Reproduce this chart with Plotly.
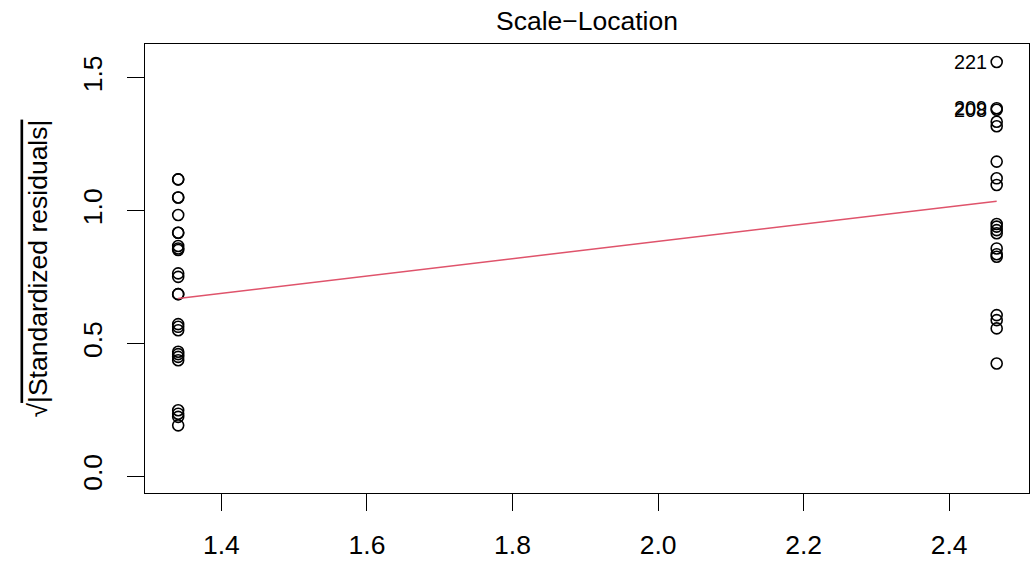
import plotly.graph_objects as go

# fitted values of the two groups
fitted_left = 1.3406
fitted_right = 2.4653

# sqrt(|standardized residuals|) per group
left_vals = [1.118, 1.118, 1.050, 1.050, 0.984, 0.917, 0.917, 0.867, 0.858, 0.852,
             0.764, 0.751, 0.686, 0.686, 0.573, 0.563, 0.550, 0.469, 0.460, 0.450,
             0.437, 0.249, 0.236, 0.224, 0.192]
right_vals = [1.560, 1.386, 1.380, 1.335, 1.318, 1.185, 1.122, 1.097, 0.950, 0.940,
              0.927, 0.915, 0.858, 0.836, 0.827, 0.607, 0.588, 0.557, 0.425]

# labelled observations
label_ids = ["221", "209", "208"]
label_y = [1.560, 1.386, 1.380]

# smoother
smooth_x = [1.3406, 2.4653]
smooth_y = [0.670, 1.036]

x_ticks = [1.4, 1.6, 1.8, 2.0, 2.2, 2.4]
x_ticktext = ["1.4", "1.6", "1.8", "2.0", "2.2", "2.4"]
y_ticks = [0.0, 0.5, 1.0, 1.5]
y_ticktext = ["0.0", "0.5", "1.0", "1.5"]

FONT = "Liberation Sans, Arial, Helvetica, sans-serif"
FS = 26.5

xs = [fitted_left] * len(left_vals) + [fitted_right] * len(right_vals)
ys = left_vals + right_vals

fig = go.Figure()
fig.add_trace(go.Scatter(
    x=xs, y=ys, mode="markers",
    marker=dict(symbol="circle-open", size=11, color="black", line=dict(width=1.6)),
    showlegend=False, hoverinfo="skip"))
fig.add_trace(go.Scatter(
    x=smooth_x, y=smooth_y, mode="lines",
    line=dict(color="#DF536B", width=1.5),
    showlegend=False, hoverinfo="skip"))

annotations = []
for lab, yv in zip(label_ids, label_y):
    annotations.append(dict(
        x=fitted_right, y=yv, xref="x", yref="y", text=lab, showarrow=False,
        xanchor="right", yanchor="middle", xshift=-8,
        font=dict(family=FONT, size=FS * 0.75, color="black")))

annotations.append(dict(
    x=0.5, y=1, xref="paper", yref="paper", text="Scale\u2212Location",
    showarrow=False, xanchor="center", yanchor="bottom", yshift=6,
    font=dict(family=FONT, size=FS, color="black")))

annotations.append(dict(
    x=0, y=0.5, xref="paper", yref="paper",
    text="\u221a<span style=\"text-decoration:overline\">|Standardized residuals|</span>",
    showarrow=False, xanchor="center", yanchor="middle", textangle=-90, xshift=-108,
    font=dict(family=FONT, size=FS, color="black")))

fig.update_layout(
    width=1030, height=563,
    margin=dict(l=145, r=1, t=44, b=70, autoexpand=False),
    paper_bgcolor="white", plot_bgcolor="white",
    font=dict(family=FONT, size=FS, color="black"),
    annotations=annotations,
    xaxis=dict(
        range=[1.295, 2.5097], tickvals=x_ticks, ticktext=x_ticktext,
        showgrid=False, zeroline=False, showline=True, mirror=True,
        linecolor="black", linewidth=1.3, automargin=False,
        ticks="outside", ticklen=17, tickwidth=1.3, tickcolor="black",
        ticklabelstandoff=11,
        tickfont=dict(family=FONT, size=FS, color="black")),
    yaxis=dict(
        range=[-0.0626, 1.6276], tickvals=y_ticks, ticktext=y_ticktext,
        showgrid=False, zeroline=False, showline=True, mirror=True,
        linecolor="black", linewidth=1.3, automargin=False,
        ticks="outside", ticklen=17, tickwidth=1.3, tickcolor="black",
        tickangle=-90, ticklabelstandoff=14,
        tickfont=dict(family=FONT, size=FS, color="black")),
)

fig.write_html("out.html")
